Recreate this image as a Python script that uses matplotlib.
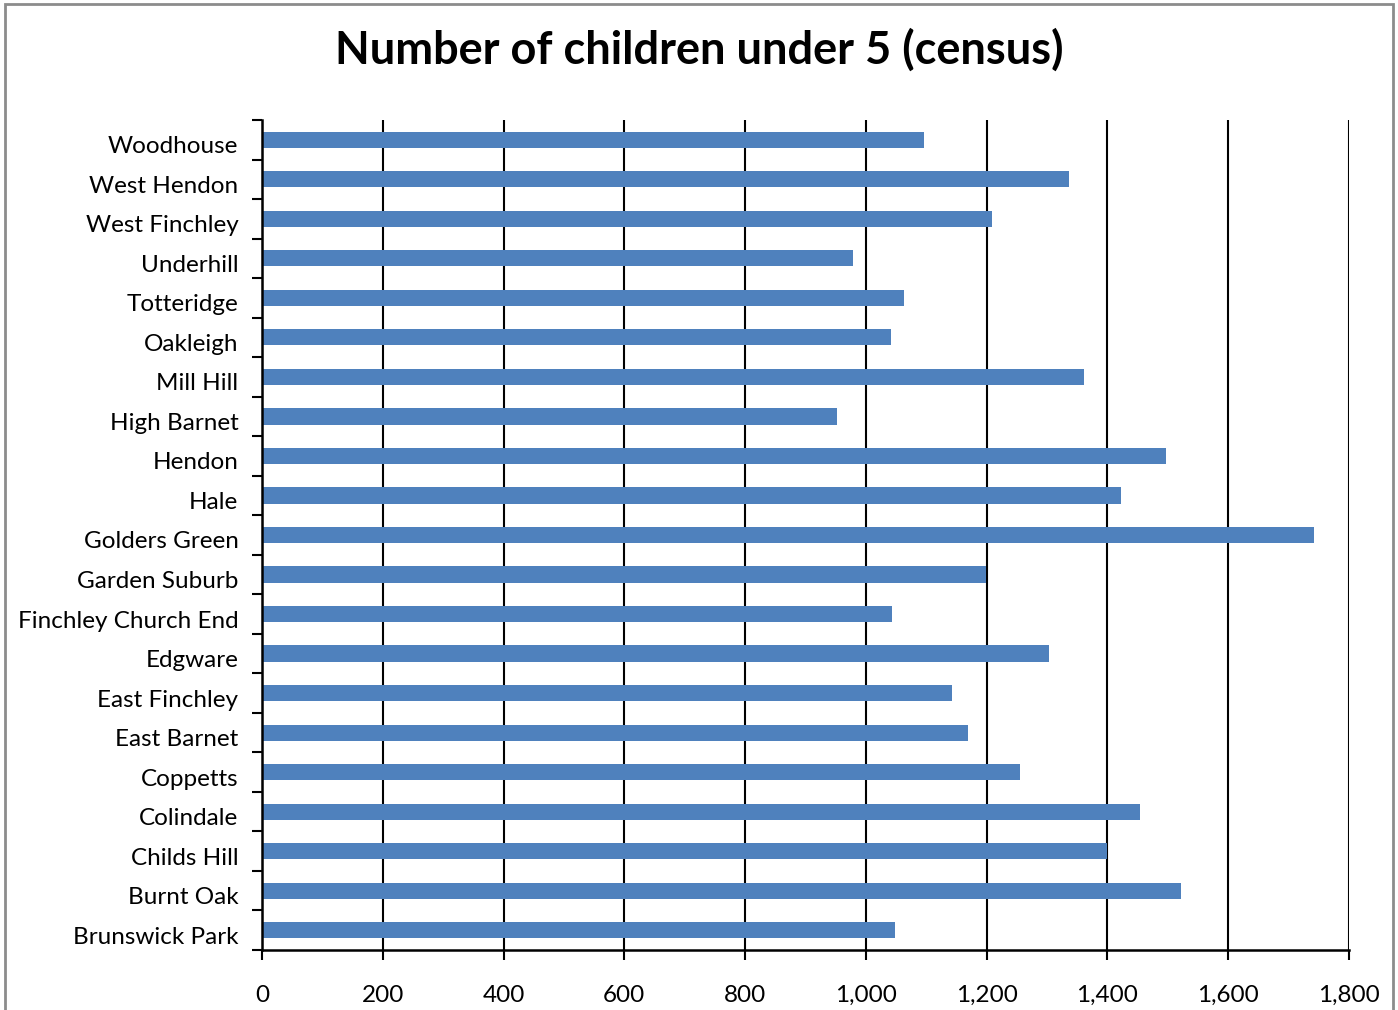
import matplotlib
matplotlib.use("Agg")
import matplotlib.pyplot as plt
import matplotlib.transforms as mtransforms
from matplotlib.patches import Rectangle

wards = ['Brunswick Park', 'Burnt Oak', 'Childs Hill', 'Colindale', 'Coppetts',
         'East Barnet', 'East Finchley', 'Edgware', 'Finchley Church End',
         'Garden Suburb', 'Golders Green', 'Hale', 'Hendon', 'High Barnet',
         'Mill Hill', 'Oakleigh', 'Totteridge', 'Underhill', 'West Finchley',
         'West Hendon', 'Woodhouse']
children = [1048, 1522, 1399, 1454, 1255,
            1169, 1143, 1303, 1043,
            1199, 1742, 1422, 1497, 952,
            1361, 1042, 1063, 979, 1209,
            1336, 1096]
xticks = [0, 200, 400, 600, 800, 1000, 1200, 1400, 1600, 1800]

plt.rcParams['font.family'] = ['Lato', 'DejaVu Sans']

fig = plt.figure(figsize=(13.98, 10.10), dpi=100)
ax = fig.add_axes([262 / 1398, 60 / 1010, 1087 / 1398, 830 / 1010])

# chart area border
fig.patches.append(Rectangle((5 / 1398, -0.01), 1388 / 1398, 1.0 - 4 / 1010 + 0.01,
                             transform=fig.transFigure, fill=False,
                             edgecolor='#8c8c8c', linewidth=2))

ypos = list(range(len(wards)))
ax.barh(ypos, children, height=0.41, color='#4F81BD', zorder=3)

ax.set_xlim(0, 1800)
ax.set_ylim(-0.5, len(wards) - 0.5)
ax.set_xticks(xticks)
ax.set_xticklabels([f'{v:,}' for v in xticks])
ax.set_yticks(ypos)
ax.set_yticklabels(wards)
ax.set_yticks([i - 0.5 for i in range(len(wards) + 1)], minor=True)

ax.tick_params(axis='y', which='major', length=0, pad=17, labelsize=17.5)
ax.tick_params(axis='y', which='minor', length=7, width=1.5, direction='out')
ax.tick_params(axis='x', length=7, width=1.5, direction='out', pad=18, labelsize=17.5)

# labels sit a little below the bar centres
shift = mtransforms.ScaledTranslation(0, -5 / 100, fig.dpi_scale_trans)
for lbl in ax.get_yticklabels():
    lbl.set_transform(lbl.get_transform() + shift)

ax.grid(axis='x', color='black', linewidth=1.5, zorder=0)
ax.set_axisbelow(True)
for s in ['top', 'right']:
    ax.spines[s].set_visible(False)
for s in ['left', 'bottom']:
    ax.spines[s].set_linewidth(1.8)
    ax.spines[s].set_zorder(4)

fig.text(0.5, 1 - 50 / 1010, 'Number of children under 5 (census)',
         ha='center', va='center', fontsize=32.5, fontweight='bold')

fig.savefig('out.png', dpi=100)
